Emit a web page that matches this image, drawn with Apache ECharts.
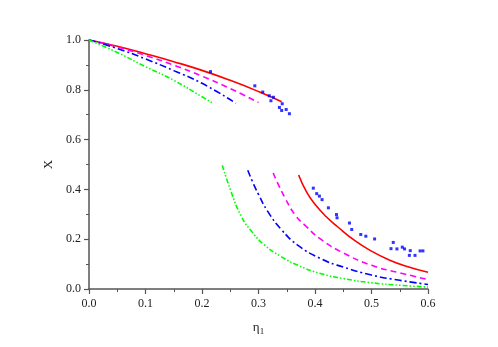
<!DOCTYPE html>
<html>
<head>
<meta charset="utf-8">
<script src="https://cdn.jsdelivr.net/npm/echarts@6/dist/echarts.min.js"></script>
<style>html,body{margin:0;padding:0;background:#fff}#c{width:498px;height:347px}</style>
</head>
<body>
<div id="c"></div>
<script>
// Upper branches [eta1, X]
var redUpper = [[0,1],[0.05,0.975],[0.1,0.945],[0.15,0.913],[0.2,0.878],[0.25,0.838],[0.3,0.793],[0.341,0.752]];
var magentaUpper = [[0,1],[0.05,0.972],[0.1,0.938],[0.15,0.899],[0.2,0.855],[0.25,0.805],[0.3,0.749]];
var blueUpper = [[0,1],[0.05,0.966],[0.1,0.924],[0.15,0.877],[0.2,0.826],[0.26,0.746]];
var greenUpper = [[0,1],[0.05,0.95],[0.1,0.893],[0.15,0.838],[0.2,0.772],[0.219,0.746]];
// Lower branches
var redLower = [[0.371,0.458],[0.385,0.39],[0.40,0.34],[0.42,0.29],[0.44,0.25],[0.47,0.195],[0.5,0.152],[0.53,0.118],[0.56,0.092],[0.6,0.067]];
var magentaLower = [[0.326,0.466],[0.336,0.415],[0.346,0.37],[0.364,0.30],[0.385,0.25],[0.41,0.20],[0.45,0.145],[0.5,0.095],[0.55,0.065],[0.6,0.038]];
var blueLower = [[0.281,0.477],[0.29,0.428],[0.30,0.38],[0.316,0.313],[0.34,0.240],[0.37,0.175],[0.41,0.122],[0.45,0.088],[0.5,0.056],[0.55,0.035],[0.6,0.018]];
var greenLower = [[0.236,0.497],[0.25,0.40],[0.27,0.29],[0.29,0.225],[0.31,0.178],[0.34,0.13],[0.37,0.095],[0.41,0.062],[0.45,0.042],[0.5,0.025],[0.55,0.015],[0.6,0.008]];
// Scatter (blue squares)
var points = [[0.215,0.873],[0.2935,0.816],[0.3075,0.791],[0.319,0.776],[0.3265,0.770],[0.322,0.756],[0.342,0.744],[0.337,0.729],[0.341,0.717],[0.349,0.721],[0.3547,0.704],
  [0.397,0.405],[0.403,0.383],[0.4078,0.373],[0.4125,0.359],[0.4237,0.326],[0.438,0.299],[0.439,0.286],[0.461,0.265],[0.465,0.239],[0.481,0.219],[0.490,0.212],[0.5055,0.201],
  [0.5345,0.162],[0.5385,0.187],[0.545,0.161],[0.5545,0.168],[0.5585,0.161],[0.5686,0.154],[0.567,0.135],[0.577,0.135],[0.586,0.153],[0.591,0.153]];
var xTicks = {min:0, max:0.6, interval:0.1};
var yTicks = {min:0, max:1.0, interval:0.2};

var font = 'Liberation Serif';
function lineSeries(data, color, type){
  return {type:'line', data:data, smooth:0.5, showSymbol:false, symbol:'none',
    lineStyle:{color:color, width:1.6, type:type}, z:2, animation:false};
}
var axisCommon = {
  axisLine:{show:true, lineStyle:{color:'#555', width:1.5}},
  axisTick:{show:true, inside:false, length:5, lineStyle:{color:'#555', width:1.2}},
  minorTick:{show:true, splitNumber:2, length:3, lineStyle:{color:'#555', width:1}},
  splitLine:{show:false},
  axisLabel:{fontFamily:font, fontSize:12, color:'#222', formatter:function(v){return v.toFixed(1);}}
};
var chart = echarts.init(document.getElementById('c'), null, {renderer:'canvas'});
chart.setOption({
  animation:false,
  backgroundColor:'#fff',
  grid:{left:89, right:70, top:40, bottom:58, containLabel:false},
  xAxis: Object.assign({type:'value', min:xTicks.min, max:xTicks.max, interval:xTicks.interval,
    name:'{a|η}{b|1}', nameLocation:'middle', nameGap:30,
    nameTextStyle:{rich:{a:{fontFamily:font, fontSize:13, color:'#222'}, b:{fontFamily:font, fontSize:9, color:'#222', padding:[8,0,0,0]}}}
  }, axisCommon, {axisLabel:Object.assign({}, axisCommon.axisLabel, {margin:9})}),
  yAxis: Object.assign({type:'value', min:yTicks.min, max:yTicks.max, interval:yTicks.interval,
    name:'X', nameLocation:'middle', nameGap:32,
    nameTextStyle:{fontFamily:font, fontSize:13, color:'#222'}
  }, axisCommon, {axisLabel:Object.assign({}, axisCommon.axisLabel, {margin:8})}),
  series:[
    lineSeries(redUpper,'#ff0000','solid'),
    lineSeries(magentaUpper,'#ff00ff',[6,4]),
    lineSeries(blueUpper,'#0000ff',[7,3,2,3]),
    lineSeries(greenUpper,'#00ff00',[5,2,1.5,2,1.5,2]),
    lineSeries(redLower,'#ff0000','solid'),
    lineSeries(magentaLower,'#ff00ff',[6,4]),
    lineSeries(blueLower,'#0000ff',[7,3,2,3]),
    lineSeries(greenLower,'#00ff00',[5,2,1.5,2,1.5,2]),
    {type:'scatter', data:points, symbol:'rect', symbolSize:3, itemStyle:{color:'#0000ff'}, z:3, animation:false}
  ]
});
</script>
</body>
</html>
